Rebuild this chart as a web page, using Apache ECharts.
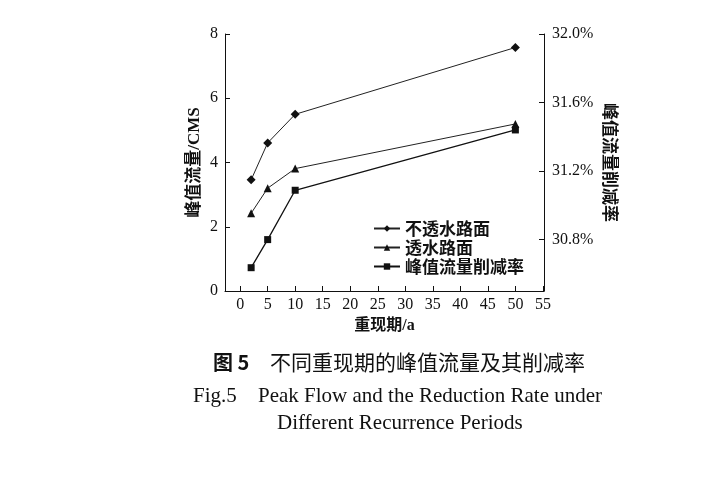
<!DOCTYPE html>
<html><head><meta charset="utf-8">
<script src="https://cdn.jsdelivr.net/npm/echarts@6/dist/echarts.min.js"></script>
<style>html,body{margin:0;padding:0;background:#fff}#c{width:719px;height:484px}</style>
</head><body><div id="c"></div>
<script>
const periods = [2, 5, 10, 50];
const impervious = [3.46, 4.61, 5.50, 7.58];
const pervious = [2.42, 3.20, 3.81, 5.20];
const reductionRate = [30.636, 30.80, 31.088, 31.44];
const xTicks = [0, 5, 10, 15, 20, 25, 30, 35, 40, 45, 50, 55];
const yLeftTicks = [0, 2, 4, 6, 8];
const yRightTicks = [30.8, 31.2, 31.6, 32.0];
const seriesNames = ['不透水路面', '透水路面', '峰值流量削减率'];

const serif = '"Liberation Serif","Noto Sans CJK SC",serif';
const chart = echarts.init(document.getElementById('c'));
const axisLineStyle = {lineStyle: {color: '#111', width: 1}};
function pair(xs, ys){ return xs.map((x,i)=>[x, ys[i]]); }

chart.setOption({
  animation: false,
  backgroundColor: '#fff',
  grid: {left: 225, right: 175, top: 34, bottom: 193},
  legend: {
    orient: 'vertical', left: 368, top: 215, itemWidth: 26, itemHeight: 8, itemGap: 2,
    textStyle: {fontFamily: '"Noto Sans CJK SC"', fontWeight: 'bold', fontSize: 17, color: '#111'},
    data: seriesNames
  },
  xAxis: {
    type: 'value', min: -2.75, max: 55.2,
    name: '重现期/a', nameLocation: 'middle', nameGap: 26,
    nameTextStyle: {fontFamily: serif, fontWeight: 'bold', fontSize: 16, color: '#111'},
    axisLine: {onZero: false, ...axisLineStyle},
    axisTick: {inside: true, length: 5, customValues: xTicks, lineStyle: {color: '#111'}},
    axisLabel: {customValues: xTicks, fontFamily: serif, fontSize: 16, color: '#111', margin: 6},
    splitLine: {show: false}
  },
  yAxis: [{
    type: 'value', min: 0, max: 8, interval: 2, position: 'left',
    name: '峰值流量/CMS', nameLocation: 'middle', nameGap: 22, nameRotate: 90,
    nameTextStyle: {fontFamily: serif, fontWeight: 'bold', fontSize: 17, color: '#111'},
    axisLine: {show: true, onZero: false, ...axisLineStyle},
    axisTick: {show: true, inside: true, length: 5, lineStyle: {color: '#111'}},
    axisLabel: {fontFamily: serif, fontSize: 16, color: '#111', margin: 7},
    splitLine: {show: false}
  }, {
    type: 'value', min: 30.5, max: 32.0, position: 'right',
    name: '峰值流量削减率', nameLocation: 'middle', nameGap: 56, nameRotate: -90,
    nameTextStyle: {fontFamily: serif, fontWeight: 'bold', fontSize: 17, color: '#111'},
    axisLine: {show: true, onZero: false, ...axisLineStyle},
    axisTick: {show: true, inside: true, length: 5, customValues: yRightTicks, lineStyle: {color: '#111'}},
    axisLabel: {customValues: yRightTicks, fontFamily: serif, fontSize: 16, color: '#111', margin: 8,
      formatter: v => v.toFixed(1) + '%'},
    splitLine: {show: false}
  }],
  series: [{
    name: seriesNames[0], type: 'line', yAxisIndex: 0, data: pair(periods, impervious),
    symbol: 'diamond', symbolSize: 9, lineStyle: {color: '#222', width: 1},
    itemStyle: {color: '#111'}
  }, {
    name: seriesNames[1], type: 'line', yAxisIndex: 0, data: pair(periods, pervious),
    symbol: 'triangle', symbolSize: 8, lineStyle: {color: '#222', width: 1},
    itemStyle: {color: '#111'}
  }, {
    name: seriesNames[2], type: 'line', yAxisIndex: 1, data: pair(periods, reductionRate),
    symbol: 'rect', symbolSize: 7, lineStyle: {color: '#111', width: 1.3},
    itemStyle: {color: '#111'}
  }],
  graphic: [
    {type: 'text', left: 213, top: 352, style: {text: '图 5', font: 'bold 20px "Noto Sans CJK SC"', fill: '#111'}},
    {type: 'text', left: 270, top: 352, style: {text: '不同重现期的峰值流量及其削减率', font: '21px "Noto Sans CJK SC"', fill: '#111'}},
    {type: 'text', left: 193, top: 386, style: {text: 'Fig.5', font: '21px "Liberation Serif"', fill: '#111'}},
    {type: 'text', left: 258, top: 386, style: {text: 'Peak Flow and the Reduction Rate under', font: '21px "Liberation Serif"', fill: '#111'}},
    {type: 'text', left: 277, top: 413, style: {text: 'Different Recurrence Periods', font: '21px "Liberation Serif"', fill: '#111'}}
  ]
});
</script></body></html>
